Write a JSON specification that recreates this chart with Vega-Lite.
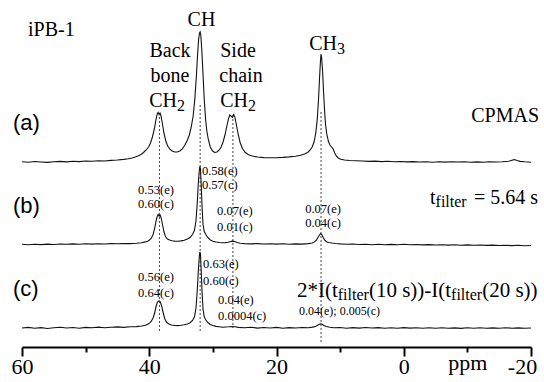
{
"$schema":"https://vega.github.io/schema/vega-lite/v6.json",
"width":509,"height":347,"autosize":"none",
"padding":{"left":22,"top":0,"right":13,"bottom":35},
"background":"white",
"config":{"view":{"stroke":null},"text":{"font":"Liberation Serif","color":"black"}},
"datasets":{
"a":[{"ppm":60,"h":0.3},{"ppm":59,"h":-0.2},{"ppm":58,"h":0.5},{"ppm":57,"h":0},{"ppm":56,"h":-0.4},{"ppm":55,"h":0.3},{"ppm":54,"h":0.6},{"ppm":53,"h":0.1},{"ppm":52,"h":0.7},{"ppm":51,"h":0.4},{"ppm":50,"h":1},{"ppm":49,"h":0.7},{"ppm":48,"h":1.2},{"ppm":47,"h":1},{"ppm":46,"h":1.6},{"ppm":45,"h":2},{"ppm":44,"h":2.6},{"ppm":43.3,"h":3.2},{"ppm":42.7,"h":4},{"ppm":42.2,"h":5},{"ppm":41.7,"h":6.2},{"ppm":41.3,"h":7.5},{"ppm":40.9,"h":9.5},{"ppm":40.5,"h":12},{"ppm":40.1,"h":15},{"ppm":39.8,"h":19},{"ppm":39.5,"h":25},{"ppm":39.2,"h":33},{"ppm":38.95,"h":42},{"ppm":38.75,"h":48},{"ppm":38.6,"h":49.5},{"ppm":38.45,"h":47.5},{"ppm":38.3,"h":49},{"ppm":38.15,"h":46},{"ppm":37.95,"h":39},{"ppm":37.7,"h":29},{"ppm":37.4,"h":21},{"ppm":37.1,"h":16},{"ppm":36.8,"h":13},{"ppm":36.4,"h":11},{"ppm":36,"h":10},{"ppm":35.6,"h":10},{"ppm":35.2,"h":11},{"ppm":34.8,"h":13},{"ppm":34.4,"h":17},{"ppm":34,"h":22},{"ppm":33.7,"h":27},{"ppm":33.4,"h":35},{"ppm":33.1,"h":46},{"ppm":32.85,"h":62},{"ppm":32.6,"h":85},{"ppm":32.4,"h":108},{"ppm":32.25,"h":122},{"ppm":32.1,"h":129},{"ppm":32,"h":130},{"ppm":31.9,"h":127},{"ppm":31.75,"h":113},{"ppm":31.55,"h":88},{"ppm":31.35,"h":62},{"ppm":31.15,"h":43},{"ppm":30.95,"h":31},{"ppm":30.7,"h":22},{"ppm":30.4,"h":15},{"ppm":30.05,"h":11},{"ppm":29.7,"h":9.5},{"ppm":29.35,"h":10},{"ppm":29,"h":12},{"ppm":28.7,"h":15},{"ppm":28.4,"h":20},{"ppm":28.1,"h":27},{"ppm":27.8,"h":36},{"ppm":27.55,"h":43},{"ppm":27.35,"h":47},{"ppm":27.15,"h":46},{"ppm":26.95,"h":44.5},{"ppm":26.75,"h":47.5},{"ppm":26.55,"h":45},{"ppm":26.3,"h":37},{"ppm":26,"h":27},{"ppm":25.7,"h":19},{"ppm":25.35,"h":13.5},{"ppm":24.9,"h":9.5},{"ppm":24.4,"h":7.3},{"ppm":23.8,"h":6},{"ppm":23,"h":5},{"ppm":22,"h":4.4},{"ppm":21,"h":4.2},{"ppm":20,"h":4.3},{"ppm":19,"h":4.6},{"ppm":18,"h":5.1},{"ppm":17,"h":5.8},{"ppm":16.2,"h":6.8},{"ppm":15.6,"h":8},{"ppm":15.1,"h":9.5},{"ppm":14.7,"h":12},{"ppm":14.4,"h":15},{"ppm":14.1,"h":20},{"ppm":13.85,"h":28},{"ppm":13.6,"h":42},{"ppm":13.4,"h":62},{"ppm":13.25,"h":82},{"ppm":13.1,"h":100},{"ppm":13,"h":108},{"ppm":12.9,"h":104},{"ppm":12.75,"h":90},{"ppm":12.6,"h":70},{"ppm":12.45,"h":52},{"ppm":12.3,"h":38},{"ppm":12.1,"h":28},{"ppm":11.85,"h":21},{"ppm":11.6,"h":17},{"ppm":11.35,"h":15},{"ppm":11.1,"h":13},{"ppm":10.85,"h":9},{"ppm":10.6,"h":6},{"ppm":10.3,"h":4},{"ppm":9.9,"h":2.8},{"ppm":9.3,"h":2},{"ppm":8.5,"h":1.5},{"ppm":7.5,"h":1.2},{"ppm":6.5,"h":1},{"ppm":5.5,"h":0.6},{"ppm":4.5,"h":0.9},{"ppm":3.5,"h":0.4},{"ppm":2.5,"h":0.7},{"ppm":1.5,"h":0.2},{"ppm":0.5,"h":0.5},{"ppm":-0.5,"h":0.1},{"ppm":-1.5,"h":0.4},{"ppm":-2.5,"h":0},{"ppm":-3.5,"h":0.3},{"ppm":-4.5,"h":-0.2},{"ppm":-5.5,"h":0.2},{"ppm":-6.5,"h":-0.1},{"ppm":-7.5,"h":0.3},{"ppm":-8.5,"h":0},{"ppm":-9.5,"h":0.2},{"ppm":-10.5,"h":-0.3},{"ppm":-11.5,"h":0.1},{"ppm":-12.5,"h":-0.2},{"ppm":-13.5,"h":0.2},{"ppm":-14.5,"h":0},{"ppm":-15.5,"h":0.3},{"ppm":-16.5,"h":0.8},{"ppm":-17,"h":1.8},{"ppm":-17.4,"h":2.4},{"ppm":-17.8,"h":1.5},{"ppm":-18.3,"h":0.6},{"ppm":-19,"h":0.2},{"ppm":-20,"h":-0.2}],
"b":[{"ppm":60,"h":0.2},{"ppm":59,"h":-0.3},{"ppm":58,"h":0.3},{"ppm":57,"h":-0.1},{"ppm":56,"h":0.4},{"ppm":55,"h":0},{"ppm":54,"h":0.5},{"ppm":53,"h":0.2},{"ppm":52,"h":0.6},{"ppm":51,"h":0.3},{"ppm":50,"h":0.7},{"ppm":49,"h":0.4},{"ppm":48,"h":0.8},{"ppm":47,"h":0.5},{"ppm":46,"h":0.9},{"ppm":45,"h":0.7},{"ppm":44,"h":1},{"ppm":43,"h":0.9},{"ppm":42,"h":1.3},{"ppm":41.2,"h":1.8},{"ppm":40.6,"h":2.6},{"ppm":40.1,"h":3.8},{"ppm":39.7,"h":6},{"ppm":39.4,"h":10},{"ppm":39.15,"h":16},{"ppm":38.95,"h":23},{"ppm":38.75,"h":28},{"ppm":38.6,"h":30},{"ppm":38.45,"h":28.5},{"ppm":38.3,"h":29.5},{"ppm":38.15,"h":27},{"ppm":37.95,"h":21},{"ppm":37.7,"h":13},{"ppm":37.45,"h":8},{"ppm":37.15,"h":5.5},{"ppm":36.8,"h":4.5},{"ppm":36.4,"h":3.8},{"ppm":36,"h":3.4},{"ppm":35.5,"h":3.2},{"ppm":35,"h":3.6},{"ppm":34.5,"h":4.3},{"ppm":34,"h":5.5},{"ppm":33.6,"h":7},{"ppm":33.2,"h":10},{"ppm":32.9,"h":14},{"ppm":32.65,"h":24},{"ppm":32.45,"h":42},{"ppm":32.3,"h":60},{"ppm":32.15,"h":73},{"ppm":32.05,"h":78},{"ppm":31.95,"h":76},{"ppm":31.85,"h":62},{"ppm":31.7,"h":38},{"ppm":31.55,"h":20},{"ppm":31.35,"h":13},{"ppm":31.1,"h":10},{"ppm":30.8,"h":7},{"ppm":30.4,"h":4.5},{"ppm":30,"h":3.3},{"ppm":29.5,"h":2.5},{"ppm":29,"h":2},{"ppm":28.5,"h":1.8},{"ppm":28,"h":1.9},{"ppm":27.6,"h":2.3},{"ppm":27.2,"h":3},{"ppm":26.9,"h":3.4},{"ppm":26.6,"h":3},{"ppm":26.2,"h":2},{"ppm":25.7,"h":1.3},{"ppm":25,"h":0.9},{"ppm":24,"h":0.6},{"ppm":23,"h":0.9},{"ppm":22,"h":0.5},{"ppm":21,"h":0.8},{"ppm":20,"h":0.4},{"ppm":19,"h":0.7},{"ppm":18,"h":0.3},{"ppm":17,"h":0.6},{"ppm":16,"h":0.4},{"ppm":15,"h":0.9},{"ppm":14.4,"h":1.5},{"ppm":14,"h":2.6},{"ppm":13.7,"h":4.5},{"ppm":13.45,"h":7.5},{"ppm":13.2,"h":10},{"ppm":13.05,"h":11},{"ppm":12.9,"h":10},{"ppm":12.7,"h":7.5},{"ppm":12.45,"h":4.5},{"ppm":12.15,"h":2.8},{"ppm":11.8,"h":2},{"ppm":11.3,"h":1.5},{"ppm":10.7,"h":1},{"ppm":10,"h":0.6},{"ppm":9,"h":0.2},{"ppm":8,"h":0.5},{"ppm":7,"h":0},{"ppm":6,"h":0.3},{"ppm":5,"h":-0.2},{"ppm":4,"h":0.2},{"ppm":3,"h":-0.3},{"ppm":2,"h":0.1},{"ppm":1,"h":-0.2},{"ppm":0,"h":0.2},{"ppm":-1,"h":-0.3},{"ppm":-2,"h":0},{"ppm":-3,"h":-0.4},{"ppm":-4,"h":-0.1},{"ppm":-5,"h":-0.5},{"ppm":-6,"h":-0.2},{"ppm":-7,"h":-0.6},{"ppm":-8,"h":-0.3},{"ppm":-9,"h":-0.7},{"ppm":-10,"h":-0.4},{"ppm":-11,"h":-0.8},{"ppm":-12,"h":-0.5},{"ppm":-13,"h":-0.9},{"ppm":-14,"h":-0.6},{"ppm":-15,"h":-1},{"ppm":-16,"h":-0.7},{"ppm":-17,"h":-1.1},{"ppm":-18,"h":-0.8},{"ppm":-19,"h":-1.2},{"ppm":-20,"h":-1}],
"c":[{"ppm":60,"h":0},{"ppm":59,"h":0.6},{"ppm":58,"h":-0.3},{"ppm":57,"h":0.4},{"ppm":56,"h":-0.5},{"ppm":55,"h":0.3},{"ppm":54,"h":0.8},{"ppm":53,"h":0},{"ppm":52,"h":0.5},{"ppm":51,"h":-0.2},{"ppm":50,"h":0.6},{"ppm":49,"h":0.2},{"ppm":48,"h":0.9},{"ppm":47,"h":0.3},{"ppm":46,"h":0.7},{"ppm":45,"h":1.1},{"ppm":44,"h":0.6},{"ppm":43,"h":1.2},{"ppm":42,"h":1.4},{"ppm":41.2,"h":2},{"ppm":40.6,"h":2.8},{"ppm":40.1,"h":4.2},{"ppm":39.7,"h":6.5},{"ppm":39.4,"h":10},{"ppm":39.15,"h":15},{"ppm":38.95,"h":21},{"ppm":38.75,"h":25.5},{"ppm":38.55,"h":27},{"ppm":38.4,"h":27},{"ppm":38.25,"h":26},{"ppm":38.05,"h":22},{"ppm":37.8,"h":15},{"ppm":37.55,"h":9},{"ppm":37.25,"h":5.5},{"ppm":36.9,"h":4},{"ppm":36.5,"h":3},{"ppm":36,"h":2.5},{"ppm":35.5,"h":2.4},{"ppm":35,"h":2.7},{"ppm":34.5,"h":3.2},{"ppm":34,"h":4},{"ppm":33.6,"h":5.3},{"ppm":33.2,"h":7.5},{"ppm":32.9,"h":11},{"ppm":32.65,"h":20},{"ppm":32.45,"h":38},{"ppm":32.3,"h":56},{"ppm":32.15,"h":70},{"ppm":32.05,"h":76},{"ppm":31.95,"h":74},{"ppm":31.85,"h":60},{"ppm":31.7,"h":36},{"ppm":31.55,"h":19},{"ppm":31.35,"h":11},{"ppm":31.1,"h":8},{"ppm":30.8,"h":5.5},{"ppm":30.4,"h":3.5},{"ppm":30,"h":2.4},{"ppm":29.5,"h":1.6},{"ppm":29,"h":1.2},{"ppm":28.5,"h":0.8},{"ppm":28,"h":1},{"ppm":27.5,"h":1.2},{"ppm":27,"h":1.5},{"ppm":26.5,"h":1.2},{"ppm":26,"h":0.6},{"ppm":25,"h":0.2},{"ppm":24,"h":0.7},{"ppm":23,"h":-0.1},{"ppm":22,"h":0.5},{"ppm":21,"h":0},{"ppm":20,"h":0.6},{"ppm":19,"h":-0.2},{"ppm":18,"h":0.4},{"ppm":17,"h":0},{"ppm":16,"h":0.5},{"ppm":15,"h":0.2},{"ppm":14.3,"h":0.9},{"ppm":13.8,"h":1.8},{"ppm":13.4,"h":3.2},{"ppm":13.1,"h":4.2},{"ppm":12.9,"h":4},{"ppm":12.6,"h":2.8},{"ppm":12.2,"h":1.5},{"ppm":11.6,"h":0.8},{"ppm":11,"h":0.3},{"ppm":10,"h":0.5},{"ppm":9,"h":-0.2},{"ppm":8,"h":0.4},{"ppm":7,"h":-0.1},{"ppm":6,"h":0.5},{"ppm":5,"h":0},{"ppm":4,"h":0.4},{"ppm":3,"h":-0.3},{"ppm":2,"h":0.3},{"ppm":1,"h":-0.2},{"ppm":0,"h":0.4},{"ppm":-1,"h":-0.1},{"ppm":-2,"h":0.3},{"ppm":-3,"h":-0.3},{"ppm":-4,"h":0.2},{"ppm":-5,"h":-0.2},{"ppm":-6,"h":0.3},{"ppm":-7,"h":-0.3},{"ppm":-8,"h":0.1},{"ppm":-9,"h":-0.4},{"ppm":-10,"h":0.2},{"ppm":-11,"h":-0.2},{"ppm":-12,"h":0.3},{"ppm":-13,"h":-0.3},{"ppm":-14,"h":0.1},{"ppm":-15,"h":-0.2},{"ppm":-16,"h":0.3},{"ppm":-17,"h":-0.2},{"ppm":-18,"h":0.1},{"ppm":-19,"h":-0.3},{"ppm":-20,"h":0}]
},
"encoding":{"x":{"field":"ppm","type":"quantitative",
 "scale":{"domain":[-20,60],"reverse":true,"nice":false,"zero":false},
 "axis":{"values":[60,50,40,30,20,10,0,-10,-20],"title":null,"grid":false,"labelFlush":false,"labelOverlap":false,
  "labelExpr":"datum.value === -20 ? '-20' : (datum.value === -10 ? 'ppm' : (datum.value % 20 === 0 ? datum.label : ''))",
  "labelFont":"Liberation Serif","labelFontSize":22,"labelColor":"black","labelPadding":0,
  "labelOffset":{"condition":{"test":"datum.value === -20","value":-9},"value":0},
  "domainColor":"black","domainWidth":2,"tickColor":"black","tickWidth":2,
  "tickSize":{"condition":{"test":"datum.value % 20 === 0","value":9},"value":5}}}},
"layer":[
 {"data":{"values":[{"ppm":38.4,"top":230,"bot":14},{"ppm":32.0,"top":242,"bot":14},{"ppm":26.85,"top":232,"bot":19},{"ppm":13.0,"top":235,"bot":5}]},
  "mark":{"type":"rule","strokeDash":[2,2],"strokeWidth":1,"color":"#444"},
  "encoding":{"y":{"field":"top","type":"quantitative","scale":{"domain":[0,347]},"axis":null},"y2":{"field":"bot"}}},
 {"data":{"name":"a"},"mark":{"type":"line","color":"#111","strokeWidth":1.1},
  "encoding":{"y":{"field":"h","type":"quantitative","scale":{"domain":[-185,162],"zero":false,"nice":false},"axis":null}}},
 {"data":{"name":"b"},"mark":{"type":"line","color":"#111","strokeWidth":1.1},
  "encoding":{"y":{"field":"h","type":"quantitative","scale":{"domain":[-102.5,244.5],"zero":false,"nice":false},"axis":null}}},
 {"data":{"name":"c"},"mark":{"type":"line","color":"#111","strokeWidth":1.1},
  "encoding":{"y":{"field":"h","type":"quantitative","scale":{"domain":[-19,328],"zero":false,"nice":false},"axis":null}}},
 {"data":{"values":[{"ppm":31.79,"v":321,"t":"CH"},{"ppm":36.74,"v":290.3,"t":"Back"},{"ppm":36.74,"v":265.3,"t":"bone"},{"ppm":26.05,"v":290.3,"t":"Side"},{"ppm":25.58,"v":265.3,"t":"chain"}]},
  "mark":{"type":"text","fontSize":20,"align":"center","baseline":"alphabetic"},
  "encoding":{"y":{"field":"v","type":"quantitative","scale":{"domain":[0,347]},"axis":null},"text":{"field":"t"}}},
 {"data":{"values":[{"ppm":59.06,"v":311,"t":"iPB-1"},{"ppm":-4.13,"v":143,"t":"t"},{"ppm":-11.04,"v":143,"t":"= 5.64 s"}]},
  "mark":{"type":"text","fontSize":20,"align":"left","baseline":"alphabetic"},
  "encoding":{"y":{"field":"v","type":"quantitative","scale":{"domain":[0,347]},"axis":null},"text":{"field":"t"}}},
 {"data":{"values":[{"ppm":16.78,"v":50,"t":"2*I(t"},{"ppm":5.48,"v":50,"t":"(10 s))-I(t"},{"ppm":-12.33,"v":50,"t":"(20 s))"}]},
  "mark":{"type":"text","fontSize":21,"align":"left","baseline":"alphabetic"},
  "encoding":{"y":{"field":"v","type":"quantitative","scale":{"domain":[0,347]},"axis":null},"text":{"field":"t"}}},
 {"data":{"values":[{"ppm":35.64,"v":240.3,"t":"CH"},{"ppm":24.48,"v":240.3,"t":"CH"},{"ppm":10.49,"v":297,"t":"CH"},{"ppm":-21.26,"v":225.3,"t":"CPMAS"}]},
  "mark":{"type":"text","fontSize":20,"align":"right","baseline":"alphabetic"},
  "encoding":{"y":{"field":"v","type":"quantitative","scale":{"domain":[0,347]},"axis":null},"text":{"field":"t"}}},
 {"data":{"values":[{"ppm":35.64,"v":236,"t":"2"},{"ppm":24.48,"v":236,"t":"2"},{"ppm":10.49,"v":293,"t":"3"},{"ppm":-5.0,"v":140,"t":"filter"},{"ppm":10.37,"v":47,"t":"filter"},{"ppm":-7.44,"v":47,"t":"filter"}]},
  "mark":{"type":"text","fontSize":16,"align":"left","baseline":"alphabetic"},
  "encoding":{"y":{"field":"v","type":"quantitative","scale":{"domain":[0,347]},"axis":null},"text":{"field":"t"}}},
 {"data":{"values":[{"ppm":38.94,"v":153.5,"t":"0.53(e)"},{"ppm":38.94,"v":139,"t":"0.60(c)"},{"ppm":12.69,"v":134,"t":"0.07(e)"},{"ppm":12.69,"v":120,"t":"0.04(c)"},{"ppm":38.94,"v":66,"t":"0.56(e)"},{"ppm":38.94,"v":50,"t":"0.64(c)"}]},
  "mark":{"type":"text","fontSize":12.5,"align":"center","baseline":"alphabetic"},
  "encoding":{"y":{"field":"v","type":"quantitative","scale":{"domain":[0,347]},"axis":null},"text":{"field":"t"}}},
 {"data":{"values":[{"ppm":31.71,"v":172,"t":"0.58(e)"},{"ppm":31.71,"v":158,"t":"0.57(c)"},{"ppm":29.35,"v":132,"t":"0.07(e)"},{"ppm":29.35,"v":116,"t":"0.01(c)"},{"ppm":31.55,"v":79,"t":"0.63(e)"},{"ppm":31.55,"v":62,"t":"0.60(c)"},{"ppm":29.19,"v":43,"t":"0.04(e)"},{"ppm":29.19,"v":27,"t":"0.0004(c)"}]},
  "mark":{"type":"text","fontSize":12.5,"align":"left","baseline":"alphabetic"},
  "encoding":{"y":{"field":"v","type":"quantitative","scale":{"domain":[0,347]},"axis":null},"text":{"field":"t"}}},
 {"data":{"values":[{"ppm":16.46,"v":32,"t":"0.04(e); 0.005(c)"}]},
  "mark":{"type":"text","fontSize":12,"align":"left","baseline":"alphabetic"},
  "encoding":{"y":{"field":"v","type":"quantitative","scale":{"domain":[0,347]},"axis":null},"text":{"field":"t"}}},
 {"data":{"values":[{"ppm":61.41,"v":217,"t":"(a)"},{"ppm":61.41,"v":134,"t":"(b)"},{"ppm":61.41,"v":51,"t":"(c)"}]},
  "mark":{"type":"text","fontSize":22,"align":"left","baseline":"alphabetic","font":"Liberation Sans"},
  "encoding":{"y":{"field":"v","type":"quantitative","scale":{"domain":[0,347]},"axis":null},"text":{"field":"t"}}}
],
"resolve":{"scale":{"y":"independent"}}
}
